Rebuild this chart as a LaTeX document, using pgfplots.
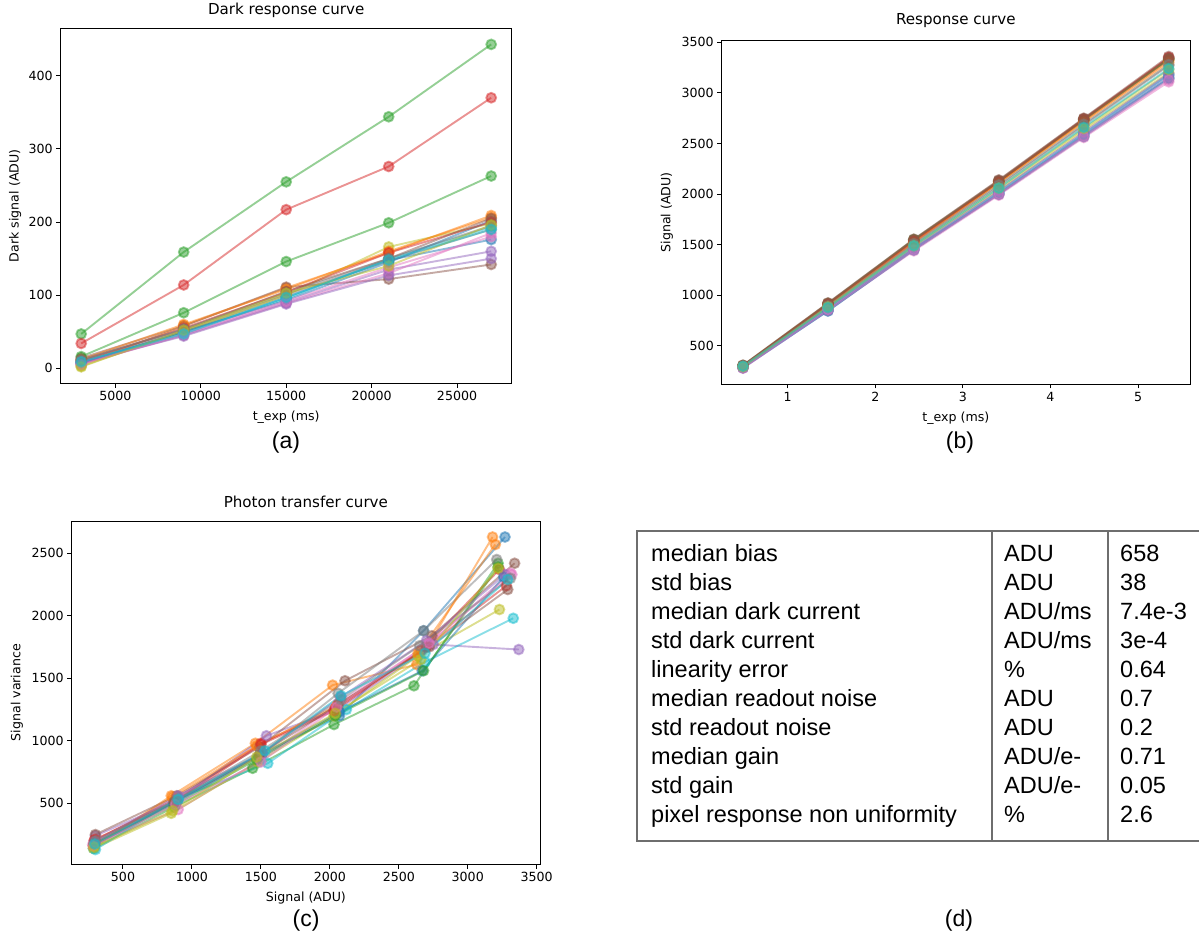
\documentclass[border=0pt]{standalone}
\usepackage{fontspec}
\setmainfont{DejaVu Sans}
\newfontfamily\arial{Liberation Sans}
\usepackage{pgfplots}
\pgfplotsset{compat=1.18}

% matplotlib tab10
\definecolor{C0}{HTML}{1F77B4}
\definecolor{C1}{HTML}{FF7F0E}
\definecolor{C2}{HTML}{2CA02C}
\definecolor{C3}{HTML}{D62728}
\definecolor{C4}{HTML}{9467BD}
\definecolor{C5}{HTML}{8C564B}
\definecolor{C6}{HTML}{E377C2}
\definecolor{C7}{HTML}{7F7F7F}
\definecolor{C8}{HTML}{BCBD22}
\definecolor{C9}{HTML}{17BECF}
\definecolor{tabline}{HTML}{6E6E6E}

\pgfplotsset{
  mpl/.style={
    scale only axis,
    axis line style={line width=1pt},
    tick align=outside, major tick length=4.4pt,
    tick style={line width=1pt, black},
    xtick pos=left, ytick pos=left,
    scaled ticks=false,
    /pgf/number format/set thousands separator={},
    /pgf/number format/assume math mode=true,
    tick label style={font=\fontsize{12.6}{15}\selectfont},
    label style={font=\fontsize{12.6}{15}\selectfont},
    title style={font=\fontsize{15.1}{18}\selectfont, anchor=center},
    cycle list={{C0,mark=*},{C1,mark=*},{C2,mark=*},{C3,mark=*},{C4,mark=*},
                {C5,mark=*},{C6,mark=*},{C7,mark=*},{C8,mark=*},{C9,mark=*}},
    every axis plot/.append style={line width=1.9pt, opacity=0.5, mark size=4.9pt,
                                   mark options={draw=none}},
  }
}

\begin{document}
\begin{tikzpicture}
\path[use as bounding box] (0,0) rectangle (1199pt,-937pt);

% (a) dark response
\begin{axis}[mpl, at={(60.7pt,-383.3pt)}, anchor=south west,
  width=451pt, height=355pt,
  xmin=1800, xmax=28200, ymin=-20.5, ymax=465,
  xtick={5000,10000,15000,20000,25000}, ytick={0,100,200,300,400},
  title={Dark response curve}, title style={at={(rel axis cs:0.5,1.035)}},
  xlabel={t\_exp (ms)}, xlabel style={at={(rel axis cs:0.5,-0.096)}, anchor=center},
  ylabel={Dark signal (ADU)}, ylabel style={at={(rel axis cs:-0.101,0.5)}, anchor=center},
]
\addplot coordinates {(3000,8) (9000,50) (15000,97) (21000,148) (27000,176)};
\addplot coordinates {(3000,5) (9000,58) (15000,110) (21000,158) (27000,209)};
\addplot coordinates {(3000,47) (9000,159) (15000,255) (21000,344) (27000,443)};
\addplot coordinates {(3000,34) (9000,114) (15000,217) (21000,276) (27000,370)};
\addplot coordinates {(3000,6) (9000,46) (15000,90) (21000,135) (27000,160)};
\addplot coordinates {(3000,14) (9000,58) (15000,111) (21000,122) (27000,142)};
\addplot coordinates {(3000,6) (9000,45) (15000,89) (21000,130) (27000,185)};
\addplot coordinates {(3000,10) (9000,52) (15000,100) (21000,147) (27000,190)};
\addplot coordinates {(3000,3) (9000,50) (15000,100) (21000,166) (27000,198)};
\addplot coordinates {(3000,9) (9000,48) (15000,95) (21000,150) (27000,193)};
\addplot coordinates {(3000,7) (9000,50) (15000,93) (21000,145) (27000,202)};
\addplot coordinates {(3000,12) (9000,60) (15000,108) (21000,160) (27000,206)};
\addplot coordinates {(3000,16) (9000,76) (15000,146) (21000,199) (27000,263)};
\addplot coordinates {(3000,10) (9000,55) (15000,104) (21000,158) (27000,200)};
\addplot coordinates {(3000,8) (9000,44) (15000,88) (21000,127) (27000,150)};
\addplot coordinates {(3000,12) (9000,53) (15000,105) (21000,150) (27000,205)};
\addplot coordinates {(3000,5) (9000,47) (15000,92) (21000,138) (27000,180)};
\addplot coordinates {(3000,11) (9000,54) (15000,102) (21000,150) (27000,195)};
\addplot coordinates {(3000,2) (9000,52) (15000,103) (21000,140) (27000,196)};
\addplot coordinates {(3000,9) (9000,47) (15000,97) (21000,148) (27000,190)};
\end{axis}

% (b) response
\begin{axis}[mpl, at={(721.7pt,-384pt)}, anchor=south west,
  width=468.3pt, height=343.3pt,
  xmin=0.247, xmax=5.593, ymin=124, ymax=3516,
  xtick={1,2,3,4,5}, ytick={500,1000,1500,2000,2500,3000,3500},
  title={Response curve}, title style={at={(rel axis cs:0.5,1.04)}},
  xlabel={t\_exp (ms)}, xlabel style={at={(rel axis cs:0.5,-0.099)}, anchor=center},
  ylabel={Signal (ADU)}, ylabel style={at={(rel axis cs:-0.117,0.5)}, anchor=center},
]
\addplot coordinates {(0.49,290) (1.46,850) (2.44,1450) (3.41,2010) (4.38,2580) (5.35,3150)};
\addplot coordinates {(0.49,300) (1.46,900) (2.44,1520) (3.41,2110) (4.38,2720) (5.35,3320)};
\addplot coordinates {(0.49,305) (1.46,920) (2.44,1550) (3.41,2130) (4.38,2740) (5.35,3340)};
\addplot coordinates {(0.49,300) (1.46,910) (2.44,1530) (3.41,2120) (4.38,2730) (5.35,3330)};
\addplot coordinates {(0.49,285) (1.46,860) (2.44,1460) (3.41,2000) (4.38,2590) (5.35,3170)};
\addplot coordinates {(0.49,310) (1.46,925) (2.44,1555) (3.41,2140) (4.38,2750) (5.35,3360)};
\addplot coordinates {(0.49,280) (1.46,850) (2.44,1440) (3.41,1990) (4.38,2560) (5.35,3110)};
\addplot coordinates {(0.49,295) (1.46,890) (2.44,1500) (3.41,2080) (4.38,2680) (5.35,3270)};
\addplot coordinates {(0.49,295) (1.46,880) (2.44,1480) (3.41,2040) (4.38,2630) (5.35,3200)};
\addplot coordinates {(0.49,290) (1.46,860) (2.44,1460) (3.41,2020) (4.38,2600) (5.35,3180)};
\addplot coordinates {(0.49,285) (1.46,845) (2.44,1450) (3.41,2000) (4.38,2570) (5.35,3140)};
\addplot coordinates {(0.49,300) (1.46,905) (2.44,1525) (3.41,2110) (4.38,2710) (5.35,3300)};
\addplot coordinates {(0.49,305) (1.46,915) (2.44,1545) (3.41,2125) (4.38,2735) (5.35,3335)};
\addplot coordinates {(0.49,305) (1.46,915) (2.44,1540) (3.41,2125) (4.38,2740) (5.35,3350)};
\addplot coordinates {(0.49,290) (1.46,870) (2.44,1470) (3.41,2030) (4.38,2610) (5.35,3190)};
\addplot coordinates {(0.49,305) (1.46,920) (2.44,1550) (3.41,2135) (4.38,2745) (5.35,3345)};
\addplot coordinates {(0.49,285) (1.46,855) (2.44,1450) (3.41,2000) (4.38,2570) (5.35,3130)};
\addplot coordinates {(0.49,300) (1.46,895) (2.44,1510) (3.41,2090) (4.38,2690) (5.35,3280)};
\addplot coordinates {(0.49,295) (1.46,885) (2.44,1490) (3.41,2060) (4.38,2650) (5.35,3230)};
\addplot coordinates {(0.49,300) (1.46,880) (2.44,1490) (3.41,2060) (4.38,2660) (5.35,3240)};
\end{axis}

% (c) photon transfer
\begin{axis}[mpl, at={(71.7pt,-864.3pt)}, anchor=south west,
  width=468.3pt, height=343.3pt,
  xmin=128, xmax=3524, ymin=12, ymax=2758,
  xtick={500,1000,1500,2000,2500,3000,3500}, ytick={500,1000,1500,2000,2500},
  title={Photon transfer curve}, title style={at={(rel axis cs:0.5,1.038)}},
  xlabel={Signal (ADU)}, xlabel style={at={(rel axis cs:0.5,-0.099)}, anchor=center},
  ylabel={Signal variance}, ylabel style={at={(rel axis cs:-0.117,0.5)}, anchor=center},
]
\addplot coordinates {(295,160) (880,520) (1510,900) (2070,1200) (2680,1880) (3270,2630)};
\addplot coordinates {(290,150) (850,560) (1460,980) (2020,1445) (2630,1610) (3180,2630)};
\addplot coordinates {(285,140) (870,470) (1440,780) (2030,1130) (2610,1440) (3220,2420)};
\addplot coordinates {(290,200) (890,540) (1500,980) (2040,1260) (2660,1720) (3230,2370)};
\addplot coordinates {(300,240) (900,530) (1540,1040) (2060,1250) (2750,1770) (3370,1730)};
\addplot coordinates {(300,250) (890,560) (1490,950) (2110,1480) (2740,1840) (3340,2420)};
\addplot coordinates {(280,170) (900,450) (1500,850) (2060,1300) (2710,1770) (3310,2340)};
\addplot coordinates {(295,180) (880,510) (1490,880) (2060,1380) (2680,1880) (3210,2450)};
\addplot coordinates {(290,140) (850,420) (1480,830) (2030,1200) (2640,1680) (3230,2050)};
\addplot coordinates {(300,130) (900,540) (1550,820) (2120,1250) (2690,1630) (3330,1980)};
\addplot coordinates {(290,170) (870,500) (1480,870) (2070,1230) (2670,1560) (3260,2310)};
\addplot coordinates {(285,160) (860,550) (1470,960) (2050,1280) (2640,1700) (3200,2570)};
\addplot coordinates {(290,170) (880,490) (1470,850) (2040,1200) (2680,1560) (3220,2390)};
\addplot coordinates {(295,210) (890,520) (1500,970) (2030,1240) (2700,1750) (3280,2240)};
\addplot coordinates {(295,190) (900,560) (1510,900) (2080,1350) (2700,1800) (3270,2330)};
\addplot coordinates {(290,180) (870,510) (1490,890) (2060,1290) (2720,1750) (3290,2210)};
\addplot coordinates {(285,160) (880,490) (1500,830) (2050,1270) (2720,1780) (3320,2330)};
\addplot coordinates {(300,200) (890,530) (1500,920) (2080,1330) (2650,1760) (3310,2300)};
\addplot coordinates {(290,150) (860,440) (1470,870) (2040,1220) (2660,1650) (3220,2380)};
\addplot coordinates {(295,175) (900,530) (1530,920) (2080,1360) (2690,1700) (3290,2290)};
\end{axis}

% panel letters
\begin{scope}[every node/.style={font=\arial\fontsize{23}{27}\selectfont, inner sep=0}]
\node at (286pt,-443pt) {(a)};
\node at (960pt,-443pt) {(b)};
\node at (306pt,-921pt) {(c)};
\node at (959pt,-921pt) {(d)};
\end{scope}

% (d) summary table
\draw[tabline, line width=2.4pt] (1199pt,-531pt) -- (637pt,-531pt) -- (637pt,-841pt) -- (1199pt,-841pt);
\draw[tabline, line width=2.4pt] (992pt,-531pt) -- (992pt,-841pt);
\draw[tabline, line width=2.4pt] (1108pt,-531pt) -- (1108pt,-841pt);
\begin{scope}[every node/.style={font=\arial\fontsize{23.5}{28}\selectfont, inner sep=0, anchor=base west}]
\node at (651pt,-561pt) {median bias};
\node at (1004pt,-561pt) {ADU};
\node at (1120pt,-561pt) {658};
\node at (651pt,-590.07pt) {std bias};
\node at (1004pt,-590.07pt) {ADU};
\node at (1120pt,-590.07pt) {38};
\node at (651pt,-619.14pt) {median dark current};
\node at (1004pt,-619.14pt) {ADU/ms};
\node at (1120pt,-619.14pt) {7.4e-3};
\node at (651pt,-648.21pt) {std dark current};
\node at (1004pt,-648.21pt) {ADU/ms};
\node at (1120pt,-648.21pt) {3e-4};
\node at (651pt,-677.28pt) {linearity error};
\node at (1004pt,-677.28pt) {\%};
\node at (1120pt,-677.28pt) {0.64};
\node at (651pt,-706.35pt) {median readout noise};
\node at (1004pt,-706.35pt) {ADU};
\node at (1120pt,-706.35pt) {0.7};
\node at (651pt,-735.42pt) {std readout noise};
\node at (1004pt,-735.42pt) {ADU};
\node at (1120pt,-735.42pt) {0.2};
\node at (651pt,-764.49pt) {median gain};
\node at (1004pt,-764.49pt) {ADU/e-};
\node at (1120pt,-764.49pt) {0.71};
\node at (651pt,-793.56pt) {std gain};
\node at (1004pt,-793.56pt) {ADU/e-};
\node at (1120pt,-793.56pt) {0.05};
\node at (651pt,-822.63pt) {pixel response non uniformity};
\node at (1004pt,-822.63pt) {\%};
\node at (1120pt,-822.63pt) {2.6};
\end{scope}
\end{tikzpicture}
\end{document}
